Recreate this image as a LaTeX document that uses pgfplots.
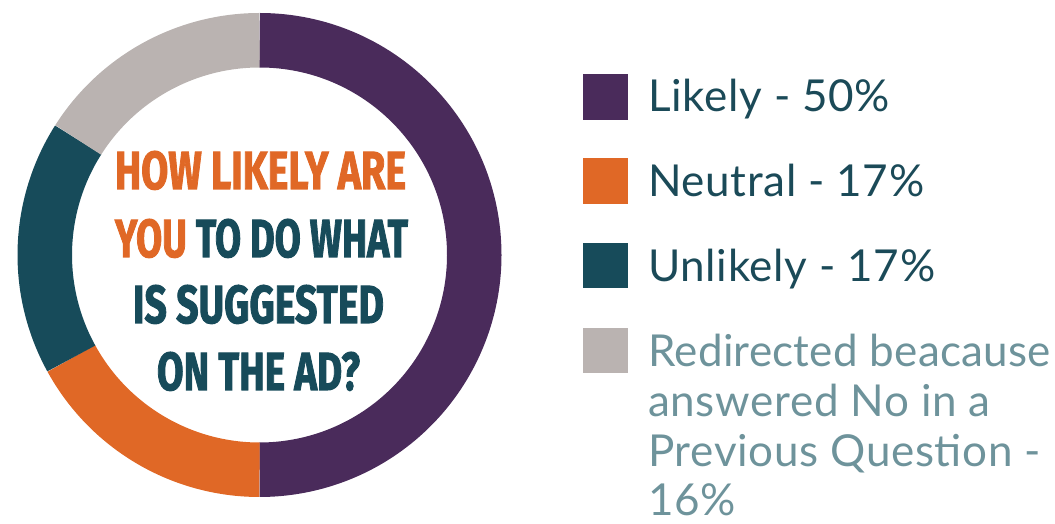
\documentclass[border=0pt]{standalone}
\usepackage{pgfplots}
\pgfplotsset{compat=1.18}
\usepackage{pgfplotstable}
\usepackage{graphicx}
\usepackage{fontspec}
\setmainfont{Lato}[LetterSpace=1.5]
\newfontfamily\titlefont[BoldFeatures={FakeBold=2}]{Fira Sans}

\definecolor{cLikely}{HTML}{4A2B5B}
\definecolor{cNeutral}{HTML}{E06826}
\definecolor{cUnlikely}{HTML}{174B5A}
\definecolor{cRedir}{HTML}{BAB3B1}
\definecolor{txtdark}{HTML}{1B4A58}
\definecolor{txtlight}{HTML}{6E939B}

\pgfplotstableread{
label value
Likely 50
Neutral 17
Unlikely 17
Redirected 16
}\donutdata

\begin{document}
\begin{tikzpicture}
\pgfplotstablegetelem{0}{value}\of\donutdata\let\vA\pgfplotsretval
\pgfplotstablegetelem{1}{value}\of\donutdata\let\vB\pgfplotsretval
\pgfplotstablegetelem{2}{value}\of\donutdata\let\vC\pgfplotsretval
\pgfplotstablegetelem{3}{value}\of\donutdata\let\vD\pgfplotsretval
\pgfmathsetmacro\aA{90}
\pgfmathsetmacro\aB{\aA-3.6*\vA}
\pgfmathsetmacro\aC{\aB-3.6*\vB}
\pgfmathsetmacro\aD{\aC-3.6*\vC}
\pgfmathsetmacro\aE{\aD-3.6*\vD}
\def\rmid{214.75pt}
\def\rw{54.5pt}
\begin{axis}[
  at={(0,0)}, anchor=south west,
  width=1055pt, height=524pt, scale only axis,
  xmin=0, xmax=1055, ymin=0, ymax=524,
  hide axis, clip=false,
]
% donut ring
\draw[cLikely, line width=\rw] (axis cs:259.5,269) ++(\aA:\rmid) arc[start angle=\aA, end angle=\aB, radius=\rmid];
\draw[cNeutral, line width=\rw] (axis cs:259.5,269) ++(\aB:\rmid) arc[start angle=\aB, end angle=\aC, radius=\rmid];
\draw[cUnlikely, line width=\rw] (axis cs:259.5,269) ++(\aC:\rmid) arc[start angle=\aC, end angle=\aD, radius=\rmid];
\draw[cRedir, line width=\rw] (axis cs:259.5,269) ++(\aD:\rmid) arc[start angle=\aD, end angle=\aE, radius=\rmid];
% centre title
\node[anchor=base, inner sep=0] at (axis cs:260.5,335) {\resizebox{291pt}{38pt}{\titlefont\bfseries\color{cNeutral}HOW LIKELY ARE}};
\node[anchor=base, inner sep=0] at (axis cs:261.5,267) {\resizebox{293pt}{38pt}{\titlefont\bfseries\color{cNeutral}YOU \color{cUnlikely}TO DO WHAT}};
\node[anchor=base, inner sep=0] at (axis cs:258.5,201) {\resizebox{251pt}{38pt}{\titlefont\bfseries\color{cUnlikely}IS SUGGESTED}};
\node[anchor=base, inner sep=0] at (axis cs:258.5,134) {\resizebox{203pt}{38pt}{\titlefont\bfseries\color{cUnlikely}ON THE AD?}};
% legend
\fill[cLikely] (axis cs:583,404) rectangle (axis cs:628,450);
\fill[cNeutral] (axis cs:583,320) rectangle (axis cs:628,366);
\fill[cUnlikely] (axis cs:583,236) rectangle (axis cs:628,281);
\fill[cRedir] (axis cs:583,151) rectangle (axis cs:628,196);
\begin{scope}[every node/.style={anchor=base west, inner sep=0, font=\fontsize{44}{50}\selectfont}]
\node[text=txtdark] at (axis cs:648,412) {Likely - 50\%};
\node[text=txtdark] at (axis cs:648,327) {Neutral - 17\%};
\node[text=txtdark] at (axis cs:648,242) {Unlikely - 17\%};
\node[text=txtlight] at (axis cs:648,157) {\addfontfeature{LetterSpace=0.6}Redirected beacause};
\node[text=txtlight] at (axis cs:648,107) {answered No in a};
\node[text=txtlight] at (axis cs:648,57) {Previous Question -};
\node[text=txtlight] at (axis cs:648,8) {16\%};
\end{scope}
\end{axis}
\pgfresetboundingbox
\useasboundingbox (0,0) rectangle (1055pt,524pt);
\end{tikzpicture}
\end{document}
